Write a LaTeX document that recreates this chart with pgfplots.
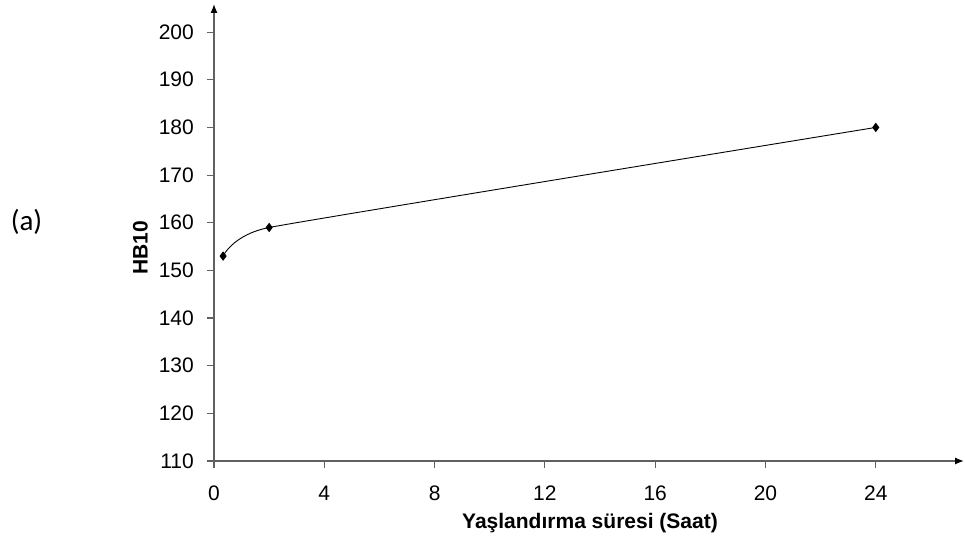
\documentclass[border=0pt]{standalone}
\usepackage{fontspec}
\setmainfont{Liberation Sans}
\newfontfamily\carlito{Carlito}
\usepackage{pgfplots}
\pgfplotsset{compat=1.18}
\usetikzlibrary{arrows.meta}
\begin{document}
\fontsize{21pt}{24pt}\selectfont
\begin{tikzpicture}
\useasboundingbox (0pt,0pt) rectangle (965pt,546pt);
\begin{axis}[
  at={(214pt,85pt)}, anchor=south west,
  scale only axis, width=750pt, height=457pt,
  xmin=0, xmax=27.2, ymin=110, ymax=205.9,
  axis lines=left,
  axis line style={draw=black!62, line width=1.3pt, -{Latex[length=9pt,width=7pt,black]}},
  xtick={0,4,...,24}, ytick={110,120,...,200},
  tick style={black!62, line width=1.1pt},
  tick align=outside, major tick length=7pt,
  /pgf/number format/assume math mode=true,
  ticklabel style={font=\fontsize{21pt}{24pt}\selectfont},
  yticklabel style={xshift=-6pt},
  xticklabel style={yshift=-11pt},
  clip=false,
]
\addplot[black, line width=0.9pt, smooth, tension=0.2, mark=diamond*, mark size=4pt] coordinates {(0.33,153) (2,159) (24,180)};
\end{axis}
\node[font=\bfseries\fontsize{21pt}{24pt}\selectfont] at (590pt,23pt) {Yaşlandırma süresi (Saat)};
\node[rotate=90, font=\bfseries\fontsize{21pt}{24pt}\selectfont] at (140.5pt,298.5pt) {HB10};
\node[font=\carlito\fontsize{29pt}{32pt}\selectfont] at (26.5pt,324pt) {(a)};
\end{tikzpicture}
\end{document}
